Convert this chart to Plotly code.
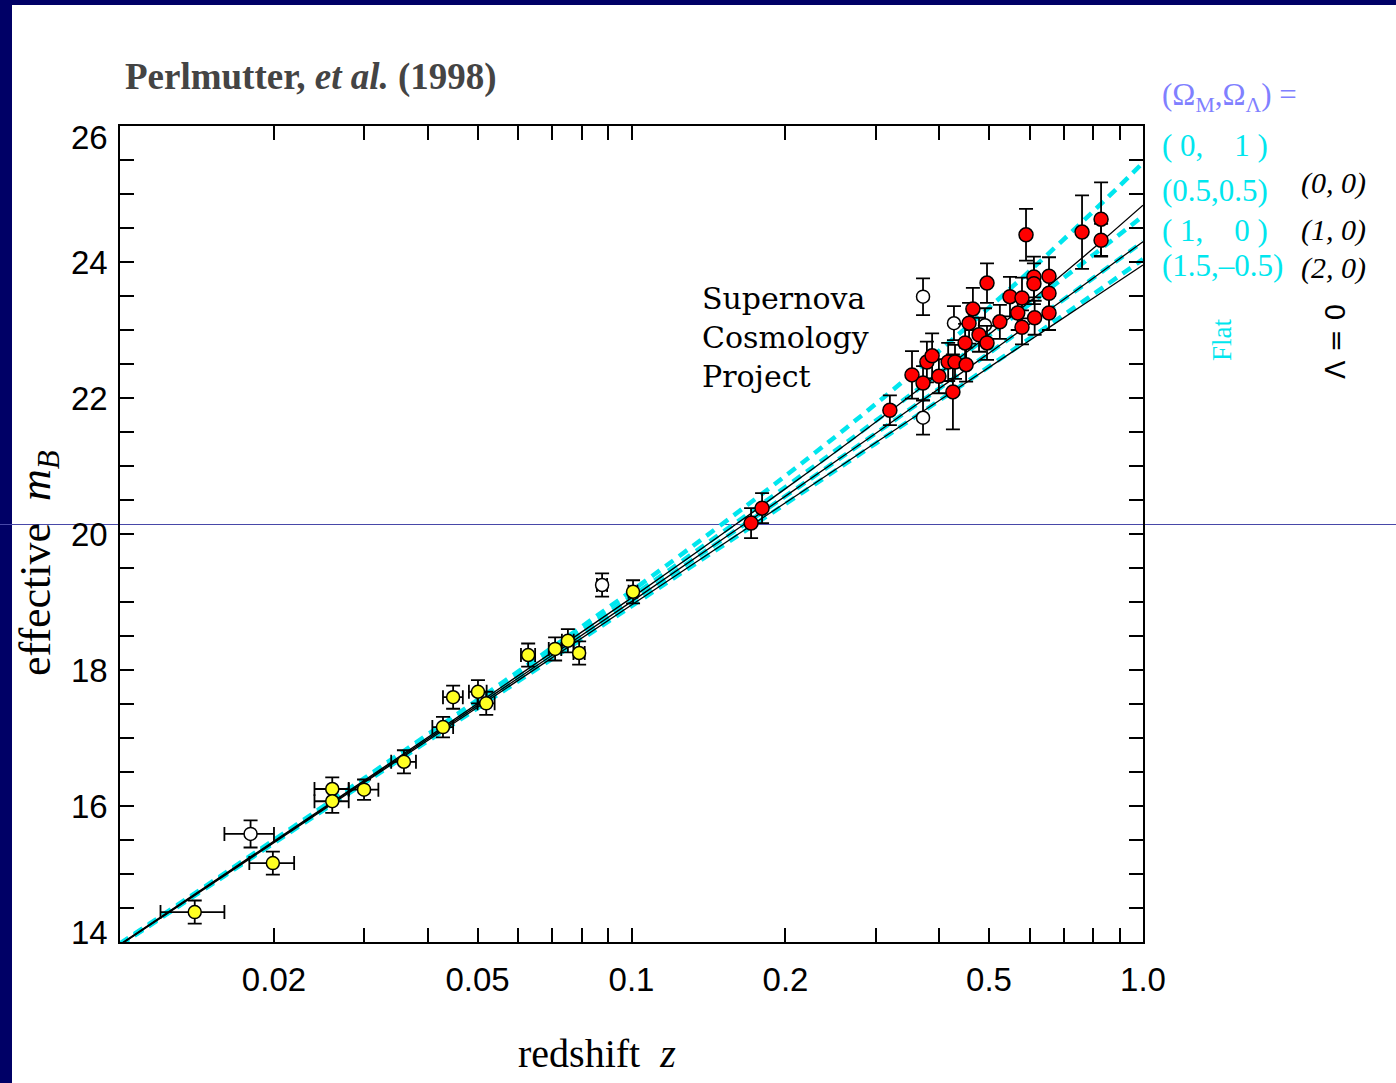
import plotly.graph_objects as go

# ---------------- data ----------------
# model curves (effective m_B)
Z_CURVE = [0.01, 0.03, 0.1, 0.2, 0.3, 0.45, 0.6, 0.8, 1.0]
M_FLAT_0_1 = [13.977, 16.405, 19.162, 20.856, 21.910, 23.028, 23.866, 24.747, 25.460]
M_FLAT_05_05 = [13.969, 16.380, 19.080, 20.691, 21.663, 22.658, 23.378, 24.106, 24.675]
M_FLAT_1_0 = [13.960, 16.357, 19.006, 20.557, 21.478, 22.414, 23.086, 23.766, 24.299]
M_FLAT_15_m05 = [13.952, 16.334, 18.939, 20.443, 21.330, 22.227, 22.873, 23.527, 24.041]
M_OPEN_0_0 = [13.966, 16.373, 19.061, 20.667, 21.644, 22.662, 23.416, 24.201, 24.836]
M_OPEN_1_0 = [13.960, 16.357, 19.006, 20.557, 21.478, 22.414, 23.086, 23.766, 24.299]
M_OPEN_2_0 = [13.955, 16.341, 18.955, 20.460, 21.341, 22.221, 22.846, 23.471, 23.955]

# Calan/Tololo low-redshift supernovae (yellow)
LOWZ_Z = [0.0140, 0.0199, 0.0260, 0.0260, 0.0300, 0.0359, 0.0428, 0.0448,
          0.0501, 0.0520, 0.0628, 0.0709, 0.0751, 0.0790, 0.1007]
LOWZ_M = [14.44, 15.16, 16.25, 16.07, 16.24, 16.65, 17.16, 17.60,
          17.68, 17.51, 18.22, 18.31, 18.43, 18.25, 19.15]
LOWZ_MERR = [0.17, 0.17, 0.17, 0.17, 0.15, 0.17, 0.15, 0.17,
             0.17, 0.17, 0.17, 0.17, 0.17, 0.17, 0.17]
LOWZ_ZERR = [0.002] * 15

# excluded supernovae (open symbols)
EXCL_Z = [0.0180, 0.0876, 0.3715, 0.3715, 0.427, 0.491]
EXCL_M = [15.59, 19.25, 23.49, 21.71, 23.10, 23.07]
EXCL_MERR = [0.20, 0.17, 0.27, 0.25, 0.25, 0.25]
EXCL_ZERR = [0.002, 0.002, 0, 0, 0, 0]

# Supernova Cosmology Project high-redshift supernovae (red)
HIZ_Z = [0.1713, 0.180, 0.320, 0.3535, 0.3715, 0.378, 0.387, 0.399, 0.416,
         0.429, 0.425, 0.451, 0.449, 0.457, 0.465, 0.478, 0.4955, 0.4955,
         0.525, 0.5495, 0.580, 0.569, 0.580, 0.5906, 0.612, 0.612, 0.614,
         0.655, 0.655, 0.655, 0.760, 0.828, 0.828]
HIZ_M = [20.16, 20.38, 21.82, 22.34, 22.22, 22.53, 22.62, 22.32, 22.53,
         22.53, 22.09, 22.49, 22.81, 23.10, 23.31, 22.93, 22.81, 23.69,
         23.12, 23.49, 23.47, 23.25, 23.04, 24.40, 23.78, 23.68, 23.18,
         23.79, 23.54, 23.25, 24.44, 24.63, 24.32]
HIZ_MERR = [0.22, 0.22, 0.22, 0.35, 0.25, 0.30, 0.33, 0.25, 0.28,
            0.25, 0.55, 0.25, 0.28, 0.30, 0.31, 0.25, 0.25, 0.29,
            0.25, 0.29, 0.30, 0.25, 0.25, 0.38, 0.30, 0.30, 0.25,
            0.28, 0.25, 0.25, 0.54, 0.54, 0.24]

X_TICKS = [0.02, 0.05, 0.1, 0.2, 0.5, 1.0]
X_TICKTEXT = ["0.02", "0.05", "0.1", "0.2", "0.5", "1.0"]
X_MINOR = [0.03, 0.04, 0.06, 0.07, 0.08, 0.09, 0.3, 0.4, 0.6, 0.7, 0.8, 0.9]
Y_TICKS = [14, 16, 18, 20, 22, 24, 26]
Y_TICKTEXT = ["14", "16", "18", "20", "22", "24", "26"]

# ---------------- styling ----------------
CYAN = "#00e6ee"
NAVY = "#000066"
SERIF = "Liberation Serif, Times New Roman, serif"
SANS = "Liberation Sans, Arial, sans-serif"

fig = go.Figure()

# flat models: thick cyan dashed
for m in [M_FLAT_0_1, M_FLAT_05_05, M_FLAT_1_0, M_FLAT_15_m05]:
    fig.add_trace(go.Scatter(x=Z_CURVE, y=m, mode="lines",
                             line=dict(color=CYAN, width=4.5, dash="10px,7px", shape="spline"),
                             hoverinfo="skip", showlegend=False))
# Lambda = 0 models: thin black solid
for m in [M_OPEN_0_0, M_OPEN_1_0, M_OPEN_2_0]:
    fig.add_trace(go.Scatter(x=Z_CURVE, y=m, mode="lines",
                             line=dict(color="black", width=1.3, shape="spline"),
                             hoverinfo="skip", showlegend=False))

errstyle = dict(color="black", thickness=1.8, width=7)

fig.add_trace(go.Scatter(
    x=EXCL_Z, y=EXCL_M, mode="markers",
    marker=dict(size=13, color="white", line=dict(color="black", width=1.5)),
    error_y=dict(type="data", array=EXCL_MERR, **errstyle),
    error_x=dict(type="data", array=EXCL_ZERR, **errstyle),
    showlegend=False))

fig.add_trace(go.Scatter(
    x=LOWZ_Z, y=LOWZ_M, mode="markers",
    marker=dict(size=13, color="#ffff22", line=dict(color="black", width=1.5)),
    error_y=dict(type="data", array=LOWZ_MERR, **errstyle),
    error_x=dict(type="data", array=LOWZ_ZERR, **errstyle),
    showlegend=False))

fig.add_trace(go.Scatter(
    x=HIZ_Z, y=HIZ_M, mode="markers",
    marker=dict(size=14, color="#ff0000", line=dict(color="black", width=1.5)),
    error_y=dict(type="data", array=HIZ_MERR, **errstyle),
    showlegend=False))

# ---------------- layout ----------------
L, T, W, H = 120, 126, 1023, 816


def px(X):
    return (X - L) / W


def py(Y):
    return (T + H - Y) / H


annotations = []
# y tick labels
for v, txt in zip(Y_TICKS, Y_TICKTEXT):
    shift = -11 if v == max(Y_TICKS) else (10 if v == min(Y_TICKS) else 0)
    annotations.append(dict(xref="paper", yref="y", x=0, y=v, xshift=-10, yshift=shift,
                            xanchor="right", yanchor="middle", showarrow=False, text=txt,
                            font=dict(family=SANS, size=33, color="black")))

annotations += [
    dict(x=px(123), y=py(77), xanchor="left", yanchor="middle",
         text="<b>Perlmutter, <i>et al.</i> (1998)</b>",
         font=dict(family=SERIF, size=37, color="#444444")),
    dict(x=px(700), y=py(337), xanchor="left", yanchor="middle", align="left",
         text="Supernova<br>Cosmology<br>Project",
         font=dict(family="DejaVu Serif, serif", size=30, color="black")),
    dict(x=px(1160), y=py(97), xanchor="left", yanchor="middle",
         text="(Ω<sub>M</sub>,Ω<sub>Λ</sub>) =",
         font=dict(family=SERIF, size=31, color="#8080ff")),
    dict(x=px(1160), y=py(145), xanchor="left", yanchor="middle",
         text="(\u00a00,\u00a0\u00a0\u00a0 1\u00a0)",
         font=dict(family=SERIF, size=31, color=CYAN)),
    dict(x=px(1160), y=py(190), xanchor="left", yanchor="middle",
         text="(0.5,0.5)", font=dict(family=SERIF, size=31, color=CYAN)),
    dict(x=px(1160), y=py(230), xanchor="left", yanchor="middle",
         text="(\u00a01,\u00a0\u00a0\u00a0\u00a00\u00a0)",
         font=dict(family=SERIF, size=31, color=CYAN)),
    dict(x=px(1160), y=py(266), xanchor="left", yanchor="middle",
         text="(1.5,\u20130.5)", font=dict(family=SERIF, size=31, color=CYAN)),
    dict(x=px(1299), y=py(183), xanchor="left", yanchor="middle",
         text="<i>(0, 0)</i>", font=dict(family=SERIF, size=30, color="black")),
    dict(x=px(1299), y=py(230), xanchor="left", yanchor="middle",
         text="<i>(1, 0)</i>", font=dict(family=SERIF, size=30, color="black")),
    dict(x=px(1299), y=py(268), xanchor="left", yanchor="middle",
         text="<i>(2, 0)</i>", font=dict(family=SERIF, size=30, color="black")),
    dict(x=px(1222), y=py(340), xanchor="center", yanchor="middle", textangle=-90,
         text="Flat", font=dict(family=SERIF, size=27, color=CYAN)),
    dict(x=px(1336), y=py(342), xanchor="center", yanchor="middle", textangle=-90,
         text="Λ = 0", font=dict(family="DejaVu Sans, sans-serif", size=27, color="black")),
    dict(x=px(597), y=py(1053), xanchor="center", yanchor="middle",
         text="redshift\u00a0\u00a0<i>z</i>", font=dict(family=SERIF, size=40, color="black")),
    dict(x=px(38), y=py(563), xanchor="center", yanchor="middle", textangle=-90,
         text="effective\u00a0\u00a0<i>m</i><sub><i>B</i></sub>",
         font=dict(family=SERIF, size=44, color="black")),
]
for a in annotations[len(Y_TICKS):]:
    a.setdefault("xref", "paper")
    a.setdefault("yref", "paper")
    a.setdefault("showarrow", False)

shapes = [
    # navy frame of the slide
    dict(type="rect", xref="paper", yref="paper", x0=px(0), x1=px(12), y0=py(1083), y1=py(0),
         fillcolor=NAVY, line=dict(width=0), layer="below"),
    dict(type="rect", xref="paper", yref="paper", x0=px(0), x1=px(1396), y0=py(5), y1=py(0),
         fillcolor=NAVY, line=dict(width=0), layer="below"),
    # thin horizontal guide line across the slide
    dict(type="line", xref="paper", yref="paper", x0=px(0), x1=px(1396), y0=py(524.5), y1=py(524.5),
         line=dict(color="#4848a8", width=1), layer="below"),
]

fig.update_layout(
    width=1396, height=1083,
    margin=dict(l=L, r=1396 - L - W, t=T, b=1083 - T - H),
    paper_bgcolor="white", plot_bgcolor="rgba(0,0,0,0)",
    showlegend=False,
    annotations=annotations,
    shapes=shapes,
    xaxis=dict(type="log", range=[-2, 0], tickmode="array", tickvals=X_TICKS, ticktext=X_TICKTEXT,
               ticks="inside", ticklen=14, tickwidth=1.5, tickcolor="black",
               showline=True, linecolor="black", linewidth=1.5, mirror="ticks",
               showgrid=False, zeroline=False, ticklabelstandoff=8,
               tickfont=dict(family=SANS, size=33, color="black"),
               minor=dict(tickmode="array", tickvals=X_MINOR, ticks="inside", ticklen=14,
                          tickwidth=1.5, tickcolor="black", showgrid=False)),
    yaxis=dict(range=[14, 26], tickmode="array", tickvals=Y_TICKS, showticklabels=False,
               ticks="inside", ticklen=14, tickwidth=1.5, tickcolor="black",
               showline=True, linecolor="black", linewidth=1.5, mirror="ticks",
               showgrid=False, zeroline=False,
               minor=dict(dtick=0.5, ticks="inside", ticklen=14, tickwidth=1.5,
                          tickcolor="black", showgrid=False)),
)

fig.write_html("out.html", config={"displayModeBar": False},
               post_script="document.body.style.margin='0px';document.body.style.overflow='hidden';")
